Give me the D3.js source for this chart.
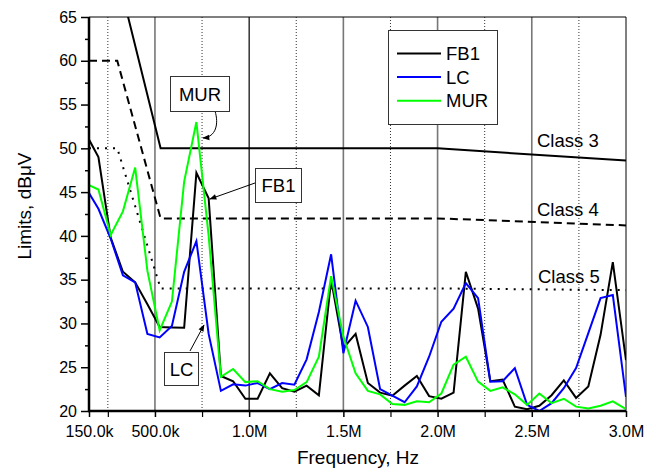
<!DOCTYPE html>
<html><head><meta charset="utf-8">
<script src="https://cdn.jsdelivr.net/npm/d3@7"></script>
<style>
html,body{margin:0;padding:0;background:#fff;}
text{font-family:"Liberation Sans",Arial,Helvetica,sans-serif;fill:#000;}
</style></head>
<body><svg id="c" width="656" height="473"></svg>
<script>
// ---- data ----
const freqMHz = [0.15, 0.2, 0.265, 0.33, 0.395, 0.46, 0.525, 0.59, 0.655, 0.72, 0.785, 0.85, 0.915, 0.98, 1.045, 1.11, 1.175, 1.24, 1.305, 1.37, 1.435, 1.5, 1.565, 1.63, 1.695, 1.76, 1.825, 1.89, 1.955, 2.02, 2.085, 2.15, 2.215, 2.28, 2.345, 2.41, 2.475, 2.54, 2.605, 2.67, 2.735, 2.8, 2.865, 2.93, 3.0];
const fb1 = [51.0, 49.0, 39.8, 35.9, 34.7, 32.2, 29.6, 29.55, 29.5, 47.2, 44.3, 24.0, 23.4, 21.4, 21.4, 24.3, 22.6, 22.2, 22.9, 21.8, 35.0, 27.2, 28.8, 23.2, 22.1, 21.75, 22.9, 24.0, 21.7, 21.4, 22.1, 35.9, 31.7, 23.4, 23.6, 20.5, 20.2, 20.6, 21.8, 23.5, 21.5, 22.8, 28.7, 37.0, 25.8];
const lc = [44.9, 43.1, 39.7, 35.5, 34.7, 28.8, 28.4, 29.7, 35.9, 39.4, 28.8, 22.3, 23.05, 22.9, 23.2, 22.5, 23.2, 23.0, 25.9, 31.3, 37.9, 26.6, 32.6, 29.6, 22.5, 21.75, 21.0, 22.8, 26.2, 30.2, 31.7, 34.6, 32.9, 23.35, 23.4, 24.9, 20.7, 20.0, 20.9, 22.6, 24.9, 28.9, 32.9, 33.25, 21.6];
const mur = [45.8, 45.3, 40.1, 42.8, 47.8, 36.0, 29.2, 32.5, 46.2, 53.0, 40.0, 23.9, 24.8, 23.3, 23.4, 22.5, 22.2, 22.4, 23.3, 26.2, 35.4, 28.5, 24.3, 22.3, 21.9, 20.8, 20.7, 21.1, 21.0, 22.0, 25.3, 26.2, 23.35, 22.3, 22.7, 21.9, 20.7, 22.0, 20.9, 21.4, 20.5, 20.3, 20.6, 21.1, 20.2];
const limitFreq = [0.15, 0.3, 0.53, 2.0, 3.0];
const class3 = [70, 70, 50, 50, 48.6];
const class4 = [60, 60, 42, 42, 41.2];
const class5 = [50, 50, 34, 34, 33.8];
const xTickVals = [0.15, 0.5, 1.0, 1.5, 2.0, 2.5, 3.0];
const xTickLabels = ["150.0k", "500.0k", "1.0M", "1.5M", "2.0M", "2.5M", "3.0M"];
const xMinorVals = [0.25, 0.75, 1.25, 1.75, 2.25, 2.75];
const yTickVals = [20, 25, 30, 35, 40, 45, 50, 55, 60, 65];
const seriesNames = ["FB1", "LC", "MUR"];
const seriesColors = ["#000000", "#0000ff", "#00ff00"];

// ---- layout ----
const L = 89, R = 626, T = 17, B = 411;
const svg = d3.select("#c");
const x = d3.scaleLinear().domain([0.15, 3.0]).range([L, R]);
const y = d3.scaleLinear().domain([20, 65]).range([B, T]);

svg.append("defs").append("clipPath").attr("id", "clip")
  .append("rect").attr("x", L).attr("y", T).attr("width", R - L).attr("height", B - T);

// grid
const g = svg.append("g");
xTickVals.slice(1, -1).forEach(v => {
  g.append("line").attr("x1", x(v)).attr("x2", x(v)).attr("y1", T).attr("y2", B)
    .attr("stroke", v === 1.0 ? "#000" : "#777").attr("stroke-width", v === 1.0 ? 1.2 : 1.6);
});
xMinorVals.forEach(v => {
  g.append("line").attr("x1", x(v)).attr("x2", x(v)).attr("y1", T).attr("y2", B)
    .attr("stroke", "#333").attr("stroke-width", 1).attr("stroke-dasharray", "1,2");
});

// frame top/right
svg.append("line").attr("x1", L).attr("x2", R).attr("y1", T).attr("y2", T).attr("stroke", "#000").attr("stroke-width", 1);
svg.append("line").attr("x1", R).attr("x2", R).attr("y1", T).attr("y2", B).attr("stroke", "#000").attr("stroke-width", 1);

const plot = svg.append("g").attr("clip-path", "url(#clip)");
const line = d3.line().x(d => x(d[0])).y(d => y(d[1]));

// limit lines
const limits = [
  {vals: class3, dash: null},
  {vals: class4, dash: "8,5"},
  {vals: class5, dash: "2,6"}
];
limits.forEach(l => {
  plot.append("path").datum(limitFreq.map((f, i) => [f, l.vals[i]]))
    .attr("d", line).attr("fill", "none").attr("stroke", "#000").attr("stroke-width", 2)
    .attr("stroke-dasharray", l.dash).attr("stroke-linecap", l.dash === "2,6" ? "butt" : "butt");
});

// series
[fb1, lc, mur].forEach((s, k) => {
  plot.append("path").datum(freqMHz.map((f, i) => [f, s[i]]))
    .attr("d", line).attr("fill", "none").attr("stroke", seriesColors[k])
    .attr("stroke-width", 2).attr("stroke-linejoin", "miter");
});

// axes
const yAxis = d3.axisLeft(y).tickValues(yTickVals).tickSize(8).tickPadding(4).tickFormat(d3.format("d"));
const ya = svg.append("g").attr("transform", `translate(${L},0)`).call(yAxis);
ya.select(".domain").remove();
ya.selectAll(".tick line").attr("stroke-width", 1.5);
ya.selectAll("text").style("font-size", "16px").attr("font-family", "Liberation Sans, Arial, sans-serif");
const yMinor = d3.axisLeft(y).tickValues(yTickVals.slice(0, -1).map(v => v + 2.5)).tickSize(4).tickFormat("");
const ym = svg.append("g").attr("transform", `translate(${L},0)`).call(yMinor);
ym.select(".domain").remove();
ym.selectAll(".tick line").attr("stroke-width", 1.5);

const xAxis = d3.axisBottom(x).tickValues(xTickVals).tickSize(6).tickPadding(9)
  .tickFormat((d, i) => xTickLabels[i]);
const xa = svg.append("g").attr("transform", `translate(0,${B})`).call(xAxis);
xa.select(".domain").remove();
xa.selectAll(".tick line").attr("stroke-width", 1.5);
xa.selectAll("text").style("font-size", "16px").attr("font-family", "Liberation Sans, Arial, sans-serif");
const xMinor = d3.axisBottom(x).tickValues(xMinorVals).tickSize(6).tickFormat("");
const xm = svg.append("g").attr("transform", `translate(0,${B})`).call(xMinor);
xm.select(".domain").remove();
xm.selectAll(".tick line").attr("stroke-width", 1.2);

svg.append("line").attr("x1", L).attr("x2", L).attr("y1", T).attr("y2", B + 1).attr("stroke", "#000").attr("stroke-width", 2.5);
svg.append("line").attr("x1", L - 1).attr("x2", R).attr("y1", B).attr("y2", B).attr("stroke", "#000").attr("stroke-width", 2.5);

// axis titles
svg.append("text").attr("x", 358).attr("y", 464).attr("text-anchor", "middle")
  .style("font-size", "19px").text("Frequency, Hz");
svg.append("text").attr("transform", "translate(31,206) rotate(-90)").attr("text-anchor", "middle")
  .style("font-size", "19px").text("Limits, dBμV");

// class labels
svg.append("text").attr("x", 537).attr("y", 147).style("font-size", "18.5px").text("Class 3");
svg.append("text").attr("x", 537).attr("y", 216).style("font-size", "18.5px").text("Class 4");
svg.append("text").attr("x", 538).attr("y", 283).style("font-size", "18.5px").text("Class 5");

// legend
const lg = svg.append("g");
lg.append("rect").attr("x", 388.5).attr("y", 30.5).attr("width", 109).attr("height", 94)
  .attr("fill", "#fff").attr("stroke", "#333").attr("stroke-width", 1);
seriesNames.forEach((n, i) => {
  const yy = 53.5 + i * 23.6;
  lg.append("line").attr("x1", 397).attr("x2", 441).attr("y1", yy).attr("y2", yy)
    .attr("stroke", seriesColors[i]).attr("stroke-width", 2);
  lg.append("text").attr("x", 446).attr("y", yy + 6.5).style("font-size", "18.5px").text(n);
});

// annotations
svg.append("defs").append("marker").attr("id", "arr").attr("viewBox", "0 0 10 10")
  .attr("refX", 9).attr("refY", 5).attr("markerWidth", 9).attr("markerHeight", 7)
  .attr("orient", "auto").attr("markerUnits", "userSpaceOnUse")
  .append("path").attr("d", "M0,1 L10,5 L0,9 Z").attr("fill", "#000");

function box(x0, y0, w, h, t) {
  svg.append("rect").attr("x", x0 + 0.5).attr("y", y0 + 0.5).attr("width", w).attr("height", h)
    .attr("fill", "#fff").attr("stroke", "#333").attr("stroke-width", 1);
  svg.append("text").attr("x", x0 + w / 2 + 0.5).attr("y", y0 + h / 2 + 7).attr("text-anchor", "middle")
    .style("font-size", "18.5px").text(t);
}
svg.append("path").attr("d", "M215,111 C219,124 216,137 203,138").attr("fill", "none")
  .attr("stroke", "#000").attr("stroke-width", 1).attr("marker-end", "url(#arr)");
svg.append("path").attr("d", "M255,183 L210,199").attr("fill", "none")
  .attr("stroke", "#000").attr("stroke-width", 1).attr("marker-end", "url(#arr)");
svg.append("path").attr("d", "M190,351 L204,325").attr("fill", "none")
  .attr("stroke", "#000").attr("stroke-width", 1).attr("marker-end", "url(#arr)");
box(170, 76, 59, 35, "MUR");
box(255, 168, 46, 34, "FB1");
box(164, 352, 34, 33, "LC");
</script></body></html>
